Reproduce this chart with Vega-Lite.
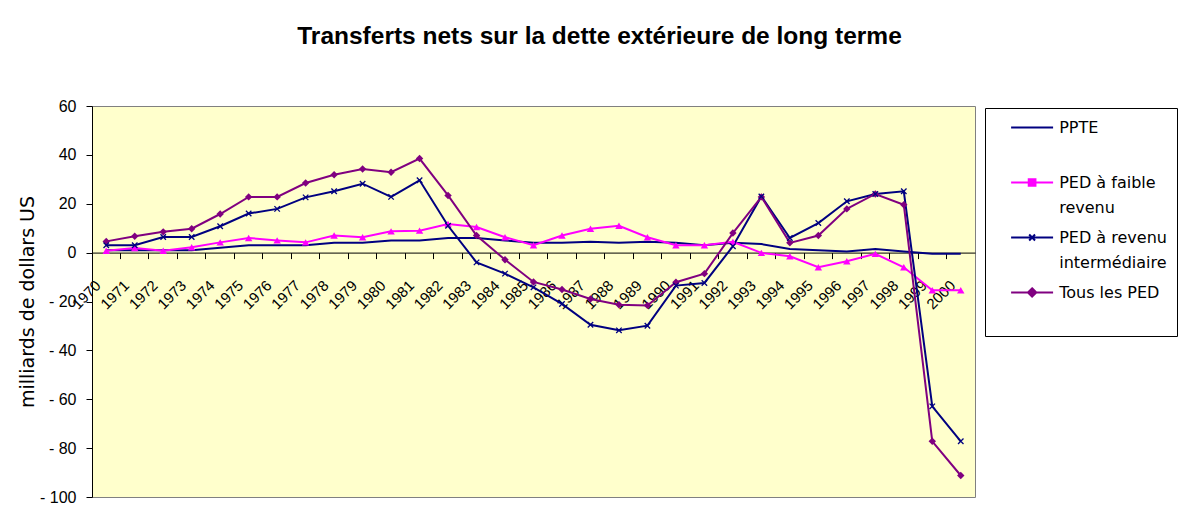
{
  "$schema": "https://vega.github.io/schema/vega-lite/v6.json",
  "width": 883,
  "height": 391,
  "autosize": {"type": "none"},
  "padding": {"left": 92, "top": 106, "right": 215, "bottom": 32},
  "background": "white",
  "title": {
    "text": "Transferts nets sur la dette extérieure de long terme",
    "font": "Liberation Sans",
    "fontSize": 24.5,
    "fontWeight": "bold",
    "color": "black",
    "anchor": "middle",
    "dx": 66,
    "offset": 30,
    "baseline": "alphabetic"
  },
  "config": {
    "view": {"fill": "#FFFFCC", "stroke": "#808080", "strokeWidth": 1},
    "font": "Liberation Sans",
    "axis": {"domainColor": "black", "tickColor": "black", "labelColor": "black", "titleColor": "black", "grid": false}
  },
  "data": {
    "values": [
      {"annee": "1970", "serie": "PPTE", "valeur": 1},
      {"annee": "1971", "serie": "PPTE", "valeur": 1},
      {"annee": "1972", "serie": "PPTE", "valeur": 1},
      {"annee": "1973", "serie": "PPTE", "valeur": 1},
      {"annee": "1974", "serie": "PPTE", "valeur": 2},
      {"annee": "1975", "serie": "PPTE", "valeur": 3},
      {"annee": "1976", "serie": "PPTE", "valeur": 3},
      {"annee": "1977", "serie": "PPTE", "valeur": 3},
      {"annee": "1978", "serie": "PPTE", "valeur": 4},
      {"annee": "1979", "serie": "PPTE", "valeur": 4},
      {"annee": "1980", "serie": "PPTE", "valeur": 5},
      {"annee": "1981", "serie": "PPTE", "valeur": 5},
      {"annee": "1982", "serie": "PPTE", "valeur": 6},
      {"annee": "1983", "serie": "PPTE", "valeur": 6},
      {"annee": "1984", "serie": "PPTE", "valeur": 5},
      {"annee": "1985", "serie": "PPTE", "valeur": 4},
      {"annee": "1986", "serie": "PPTE", "valeur": 4},
      {"annee": "1987", "serie": "PPTE", "valeur": 4.5},
      {"annee": "1988", "serie": "PPTE", "valeur": 4},
      {"annee": "1989", "serie": "PPTE", "valeur": 4.5},
      {"annee": "1990", "serie": "PPTE", "valeur": 4},
      {"annee": "1991", "serie": "PPTE", "valeur": 3},
      {"annee": "1992", "serie": "PPTE", "valeur": 4},
      {"annee": "1993", "serie": "PPTE", "valeur": 3.5},
      {"annee": "1994", "serie": "PPTE", "valeur": 1.5},
      {"annee": "1995", "serie": "PPTE", "valeur": 1},
      {"annee": "1996", "serie": "PPTE", "valeur": 0.5},
      {"annee": "1997", "serie": "PPTE", "valeur": 1.5},
      {"annee": "1998", "serie": "PPTE", "valeur": 0.5},
      {"annee": "1999", "serie": "PPTE", "valeur": -0.5},
      {"annee": "2000", "serie": "PPTE", "valeur": -0.5},
      {"annee": "1970", "serie": "PED à faible revenu", "valeur": 0.8},
      {"annee": "1971", "serie": "PED à faible revenu", "valeur": 1.9},
      {"annee": "1972", "serie": "PED à faible revenu", "valeur": 0.8},
      {"annee": "1973", "serie": "PED à faible revenu", "valeur": 2.2},
      {"annee": "1974", "serie": "PED à faible revenu", "valeur": 4.2},
      {"annee": "1975", "serie": "PED à faible revenu", "valeur": 6},
      {"annee": "1976", "serie": "PED à faible revenu", "valeur": 5},
      {"annee": "1977", "serie": "PED à faible revenu", "valeur": 4.2},
      {"annee": "1978", "serie": "PED à faible revenu", "valeur": 7},
      {"annee": "1979", "serie": "PED à faible revenu", "valeur": 6.3},
      {"annee": "1980", "serie": "PED à faible revenu", "valeur": 8.7},
      {"annee": "1981", "serie": "PED à faible revenu", "valeur": 9},
      {"annee": "1982", "serie": "PED à faible revenu", "valeur": 11.7},
      {"annee": "1983", "serie": "PED à faible revenu", "valeur": 10.5},
      {"annee": "1984", "serie": "PED à faible revenu", "valeur": 6.3},
      {"annee": "1985", "serie": "PED à faible revenu", "valeur": 3},
      {"annee": "1986", "serie": "PED à faible revenu", "valeur": 7},
      {"annee": "1987", "serie": "PED à faible revenu", "valeur": 9.8},
      {"annee": "1988", "serie": "PED à faible revenu", "valeur": 11},
      {"annee": "1989", "serie": "PED à faible revenu", "valeur": 6.3},
      {"annee": "1990", "serie": "PED à faible revenu", "valeur": 3},
      {"annee": "1991", "serie": "PED à faible revenu", "valeur": 3},
      {"annee": "1992", "serie": "PED à faible revenu", "valeur": 4.4},
      {"annee": "1993", "serie": "PED à faible revenu", "valeur": -0.1},
      {"annee": "1994", "serie": "PED à faible revenu", "valeur": -1.5},
      {"annee": "1995", "serie": "PED à faible revenu", "valeur": -6},
      {"annee": "1996", "serie": "PED à faible revenu", "valeur": -3.5},
      {"annee": "1997", "serie": "PED à faible revenu", "valeur": -0.5},
      {"annee": "1998", "serie": "PED à faible revenu", "valeur": -6},
      {"annee": "1999", "serie": "PED à faible revenu", "valeur": -15.4},
      {"annee": "2000", "serie": "PED à faible revenu", "valeur": -15.4},
      {"annee": "1970", "serie": "PED à revenu intermédiaire", "valeur": 3},
      {"annee": "1971", "serie": "PED à revenu intermédiaire", "valeur": 3},
      {"annee": "1972", "serie": "PED à revenu intermédiaire", "valeur": 6.4},
      {"annee": "1973", "serie": "PED à revenu intermédiaire", "valeur": 6.4},
      {"annee": "1974", "serie": "PED à revenu intermédiaire", "valeur": 10.8},
      {"annee": "1975", "serie": "PED à revenu intermédiaire", "valeur": 16},
      {"annee": "1976", "serie": "PED à revenu intermédiaire", "valeur": 17.9},
      {"annee": "1977", "serie": "PED à revenu intermédiaire", "valeur": 22.6},
      {"annee": "1978", "serie": "PED à revenu intermédiaire", "valeur": 25.1},
      {"annee": "1979", "serie": "PED à revenu intermédiaire", "valeur": 28.2},
      {"annee": "1980", "serie": "PED à revenu intermédiaire", "valeur": 22.8},
      {"annee": "1981", "serie": "PED à revenu intermédiaire", "valeur": 29.6},
      {"annee": "1982", "serie": "PED à revenu intermédiaire", "valeur": 11},
      {"annee": "1983", "serie": "PED à revenu intermédiaire", "valeur": -4},
      {"annee": "1984", "serie": "PED à revenu intermédiaire", "valeur": -8.6},
      {"annee": "1985", "serie": "PED à revenu intermédiaire", "valeur": -14.2},
      {"annee": "1986", "serie": "PED à revenu intermédiaire", "valeur": -21},
      {"annee": "1987", "serie": "PED à revenu intermédiaire", "valeur": -29.5},
      {"annee": "1988", "serie": "PED à revenu intermédiaire", "valeur": -31.8},
      {"annee": "1989", "serie": "PED à revenu intermédiaire", "valeur": -29.9},
      {"annee": "1990", "serie": "PED à revenu intermédiaire", "valeur": -13.5},
      {"annee": "1991", "serie": "PED à revenu intermédiaire", "valeur": -12.4},
      {"annee": "1992", "serie": "PED à revenu intermédiaire", "valeur": 2.6},
      {"annee": "1993", "serie": "PED à revenu intermédiaire", "valeur": 23},
      {"annee": "1994", "serie": "PED à revenu intermédiaire", "valeur": 6},
      {"annee": "1995", "serie": "PED à revenu intermédiaire", "valeur": 12.1},
      {"annee": "1996", "serie": "PED à revenu intermédiaire", "valeur": 21},
      {"annee": "1997", "serie": "PED à revenu intermédiaire", "valeur": 24},
      {"annee": "1998", "serie": "PED à revenu intermédiaire", "valeur": 25.1},
      {"annee": "1999", "serie": "PED à revenu intermédiaire", "valeur": -62.9},
      {"annee": "2000", "serie": "PED à revenu intermédiaire", "valeur": -77.2},
      {"annee": "1970", "serie": "Tous les PED", "valeur": 4.6},
      {"annee": "1971", "serie": "Tous les PED", "valeur": 6.7},
      {"annee": "1972", "serie": "Tous les PED", "valeur": 8.5},
      {"annee": "1973", "serie": "Tous les PED", "valeur": 9.8},
      {"annee": "1974", "serie": "Tous les PED", "valeur": 15.8},
      {"annee": "1975", "serie": "Tous les PED", "valeur": 22.8},
      {"annee": "1976", "serie": "Tous les PED", "valeur": 22.8},
      {"annee": "1977", "serie": "Tous les PED", "valeur": 28.5},
      {"annee": "1978", "serie": "Tous les PED", "valeur": 31.9},
      {"annee": "1979", "serie": "Tous les PED", "valeur": 34.2},
      {"annee": "1980", "serie": "Tous les PED", "valeur": 32.9},
      {"annee": "1981", "serie": "Tous les PED", "valeur": 38.5},
      {"annee": "1982", "serie": "Tous les PED", "valeur": 23.4},
      {"annee": "1983", "serie": "Tous les PED", "valeur": 7},
      {"annee": "1984", "serie": "Tous les PED", "valeur": -2.9},
      {"annee": "1985", "serie": "Tous les PED", "valeur": -12},
      {"annee": "1986", "serie": "Tous les PED", "valeur": -15.1},
      {"annee": "1987", "serie": "Tous les PED", "valeur": -19},
      {"annee": "1988", "serie": "Tous les PED", "valeur": -21.3},
      {"annee": "1989", "serie": "Tous les PED", "valeur": -21.6},
      {"annee": "1990", "serie": "Tous les PED", "valeur": -12.1},
      {"annee": "1991", "serie": "Tous les PED", "valeur": -8.6},
      {"annee": "1992", "serie": "Tous les PED", "valeur": 8},
      {"annee": "1993", "serie": "Tous les PED", "valeur": 22.8},
      {"annee": "1994", "serie": "Tous les PED", "valeur": 4},
      {"annee": "1995", "serie": "Tous les PED", "valeur": 7},
      {"annee": "1996", "serie": "Tous les PED", "valeur": 17.9},
      {"annee": "1997", "serie": "Tous les PED", "valeur": 24},
      {"annee": "1998", "serie": "Tous les PED", "valeur": 19.6},
      {"annee": "1999", "serie": "Tous les PED", "valeur": -77.2},
      {"annee": "2000", "serie": "Tous les PED", "valeur": -91.2}
    ]
  },
  "encoding": {
    "x": {
      "field": "annee",
      "type": "ordinal",
      "scale": {"type": "band", "paddingInner": 0, "paddingOuter": 0},
      "axis": {
        "title": null,
        "offset": -244.4,
        "bandPosition": 0,
        "labelAngle": -45,
        "labelAlign": "right",
        "labelBaseline": "middle",
        "labelOffset": -8,
        "labelPadding": 24,
        "labelOverlap": false,
        "labelFlush": false,
        "labelFontSize": 15,
        "tickSize": 6
      }
    },
    "y": {
      "field": "valeur",
      "type": "quantitative",
      "scale": {"domain": [-100, 60], "nice": false, "zero": false},
      "axis": {
        "values": [-100, -80, -60, -40, -20, 0, 20, 40, 60],
        "labelExpr": "datum.value < 0 ? '- ' + abs(datum.value) : '' + datum.value",
        "title": "milliards de dollars US",
        "titleFont": "DejaVu Sans",
        "titleFontSize": 19,
        "titleFontWeight": "normal",
        "titlePadding": 2,
        "labelFontSize": 16,
        "labelPadding": 10,
        "tickSize": 6
      }
    },
    "color": {
      "field": "serie",
      "type": "nominal",
      "scale": {
        "domain": ["PPTE", "PED à faible revenu", "PED à revenu intermédiaire", "Tous les PED"],
        "range": ["#000080", "#FF00FF", "#000080", "#800080"]
      },
      "legend": {
        "orient": "none",
        "legendX": 893,
        "legendY": 2,
        "title": null,
        "strokeColor": "black",
        "fillColor": "white",
        "padding": 10,
        "symbolOffset": 27.6,
        "symbolSize": 282,
        "symbolStrokeWidth": 1.5,
        "labelFont": "DejaVu Sans",
        "labelFontSize": 16,
        "labelColor": "black",
        "labelOffset": 17.6,
        "labelLimit": 300,
        "rowPadding": 12,
        "labelExpr": "datum.label == 'PED à faible revenu' ? ['PED à faible', 'revenu'] : datum.label == 'PED à revenu intermédiaire' ? ['PED à revenu', 'intermédiaire'] : [datum.label, '']",
        "encode": {
          "symbols": {
            "update": {
              "shape": {"signal": "datum.value === 'PPTE' ? 'M-2.5,0H2.5' : datum.value === 'PED à faible revenu' ? 'M-2.5,0H2.5M-0.4,-0.4H0.4V0.4H-0.4Z' : datum.value === 'PED à revenu intermédiaire' ? 'M-2.5,0H2.5M-0.35,-0.35L0.35,0.35M-0.35,0.35L0.35,-0.35' : 'M-2.5,0H2.5M0,-0.5L0.5,0L0,0.5L-0.5,0Z'"},
              "fill": {"scale": "color", "field": "value"},
              "stroke": {"scale": "color", "field": "value"},
              "opacity": {"value": 1},
              "fillOpacity": {"value": 1}
            }
          },
          "labels": {"update": {"lineHeight": {"value": 25}}}
        }
      }
    }
  },
  "layer": [
    {
      "mark": {"type": "line"},
      "encoding": {
        "strokeWidth": {
          "field": "serie",
          "type": "nominal",
          "scale": {
            "domain": ["PPTE", "PED à faible revenu", "PED à revenu intermédiaire", "Tous les PED"],
            "range": [2, 2, 1.2, 1.2]
          },
          "legend": null
        }
      }
    },
    {
      "transform": [{"filter": "datum.serie == 'PED à faible revenu' || datum.serie == 'Tous les PED'"}],
      "mark": {"type": "point", "filled": true, "opacity": 1, "size": 55},
      "encoding": {
        "shape": {
          "field": "serie",
          "type": "nominal",
          "scale": {"domain": ["PED à faible revenu", "Tous les PED"], "range": ["triangle-up", "diamond"]},
          "legend": null
        }
      }
    },
    {
      "transform": [{"filter": "datum.serie == 'PED à revenu intermédiaire'"}],
      "mark": {"type": "point", "filled": false, "opacity": 1, "size": 30, "strokeWidth": 1.3, "shape": "M-1,-1L1,1M-1,1L1,-1"}
    }
  ]
}
